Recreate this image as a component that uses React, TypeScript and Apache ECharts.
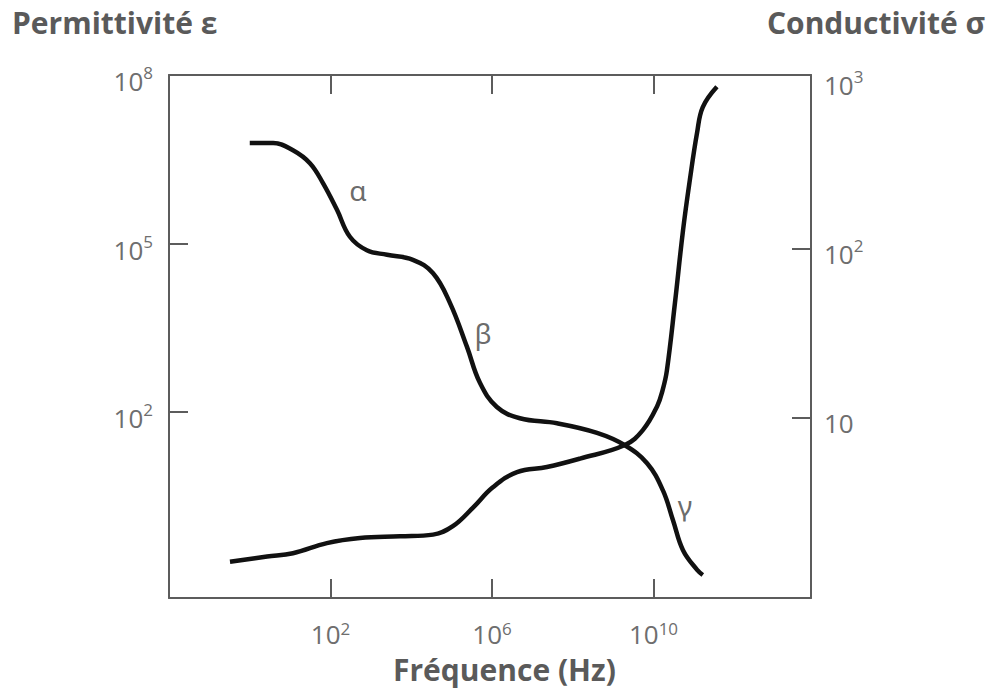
import React, { useEffect, useRef } from "react";
import * as echarts from "echarts";

// log10 of frequency (Hz) and log10 of permittivity
const permFreqLog = [0.0, 0.58, 1.07, 1.49, 1.81, 2.16, 2.48, 2.9, 3.4, 4.04, 4.54, 4.96, 5.38, 5.7, 6.12, 6.69, 7.61, 8.6, 9.29, 9.84, 10.23, 10.48, 10.73, 11.08, 11.22];
const permLog = [6.79, 6.79, 6.66, 6.43, 6.08, 5.6, 5.12, 4.88, 4.8, 4.71, 4.47, 3.94, 3.16, 2.52, 2.09, 1.89, 1.8, 1.63, 1.41, 1.09, 0.61, 0.08, -0.46, -0.81, -0.9];

// log10 of frequency (Hz) and log10 of conductivity
const condFreqLog = [-0.49, 0.43, 1.07, 1.91, 2.73, 3.72, 4.54, 5.03, 5.53, 6.02, 6.62, 7.36, 8.18, 9.29, 9.74, 10.09, 10.23, 10.33, 10.53, 10.73, 10.9, 11.08, 11.22, 11.57];
const condLog = [0.15, 0.18, 0.2, 0.26, 0.29, 0.3, 0.31, 0.36, 0.47, 0.59, 0.68, 0.71, 0.76, 0.84, 0.93, 1.07, 1.17, 1.28, 1.68, 2.11, 2.41, 2.69, 2.84, 2.96];

const xTickExponents = [2, 6, 10];
const permTickExponents = [2, 5, 8];
const condTickExponents = [1, 2, 3];
const condTickMarks = [1, 2];

const dispersionNames = ["α", "β", "γ"];
const dispersionFreqLog = [2.68, 5.78, 10.78];
const dispersionPermLog = [5.95, 3.41, 0.34];

const xRange = [-2, 13.9];
const permRange = [-1.31, 8];
const condRange = [-0.065, 3.03];

const labelColor = "#6e6e6e";
const axisColor = "#5c5c5c";
const font = "'Open Sans', 'Noto Sans', sans-serif";

const rich = {
  b: { fontSize: 26, fontFamily: font, color: labelColor, lineHeight: 34 },
  s: { fontSize: 17, fontFamily: font, color: labelColor, lineHeight: 18, verticalAlign: "top" },
};
const richX = {
  b: { fontSize: 26, fontFamily: font, color: labelColor, lineHeight: 27 },
  s: { fontSize: 17, fontFamily: font, color: labelColor, lineHeight: 14, verticalAlign: "top" },
};
const powLabel = (v: number) => (v === 1 ? "{b|10}" : `{b|10}{s|${v}}`);

export default function App() {
  const ref = useRef<HTMLDivElement>(null);
  useEffect(() => {
    if (!ref.current) return;
    const chart = echarts.init(ref.current, null, { renderer: "svg" });
    const axisLine = { show: true, onZero: false, lineStyle: { color: axisColor, width: 2 } };
    const option: any = {
      animation: false,
      backgroundColor: "#ffffff",
      grid: { left: 169, right: 186, top: 75, bottom: 95, containLabel: false },
      xAxis: [
        {
          type: "value",
          min: xRange[0],
          max: xRange[1],
          position: "bottom",
          axisLine,
          axisTick: { show: true, inside: true, length: 19, customValues: xTickExponents, lineStyle: { color: axisColor, width: 2 } },
          axisLabel: { show: true, customValues: xTickExponents, formatter: powLabel, rich: richX, margin: 22 },
          splitLine: { show: false },
        },
        {
          type: "value",
          min: xRange[0],
          max: xRange[1],
          position: "top",
          axisLine,
          axisTick: { show: true, inside: true, length: 19, customValues: xTickExponents, lineStyle: { color: axisColor, width: 2 } },
          axisLabel: { show: false },
          splitLine: { show: false },
        },
      ],
      yAxis: [
        {
          type: "value",
          min: permRange[0],
          max: permRange[1],
          position: "left",
          axisLine,
          axisTick: { show: true, inside: true, length: 19, customValues: permTickExponents, lineStyle: { color: axisColor, width: 2 } },
          axisLabel: { show: true, customValues: permTickExponents, formatter: powLabel, rich, margin: 16, padding: [12, 0, 0, 0] },
          splitLine: { show: false },
        },
        {
          type: "value",
          min: condRange[0],
          max: condRange[1],
          position: "right",
          axisLine,
          axisTick: { show: true, inside: true, length: 19, customValues: condTickMarks, lineStyle: { color: axisColor, width: 2 } },
          axisLabel: { show: true, customValues: condTickExponents, formatter: powLabel, rich, margin: 13, padding: [10, 0, 0, 0] },
          splitLine: { show: false },
        },
      ],
      series: [
        {
          type: "line",
          name: "Permittivité",
          xAxisIndex: 0,
          yAxisIndex: 0,
          data: permFreqLog.map((x, i) => [x, permLog[i]]),
          smooth: 0.4,
          symbol: "none",
          lineStyle: { color: "#111111", width: 4.5 },
          silent: true,
        },
        {
          type: "line",
          name: "Conductivité",
          xAxisIndex: 0,
          yAxisIndex: 1,
          data: condFreqLog.map((x, i) => [x, condLog[i]]),
          smooth: 0.4,
          symbol: "none",
          lineStyle: { color: "#111111", width: 4.5 },
          silent: true,
        },
        {
          type: "scatter",
          xAxisIndex: 0,
          yAxisIndex: 0,
          symbol: "circle",
          symbolSize: 1,
          itemStyle: { color: "rgba(0,0,0,0)" },
          silent: true,
          z: 5,
          data: dispersionNames.map((n, i) => ({ name: n, value: [dispersionFreqLog[i], dispersionPermLog[i]] })),
          label: {
            show: true,
            position: "inside",
            formatter: (p: any) => p.name,
            fontSize: 28,
            fontFamily: "'Noto Sans', 'DejaVu Sans', sans-serif",
            color: "#444444",
          },
        },
      ],
      graphic: [
        {
          type: "text",
          left: 12,
          top: 7,
          style: { text: "Permittivité ε", font: `bold 30px ${font}`, fill: "#5a5a5a" },
        },
        {
          type: "text",
          right: 12,
          top: 7,
          style: { text: "Conductivité σ", font: `bold 30px ${font}`, fill: "#5a5a5a" },
        },
        {
          type: "text",
          left: 393,
          top: 654,
          style: { text: "Fréquence (Hz)", font: `bold 30px ${font}`, fill: "#5a5a5a" },
        },
      ],
    };
    chart.setOption(option);
    return () => chart.dispose();
  }, []);
  return (
    <div
      ref={ref}
      style={{ position: "absolute", left: 0, top: 0, width: 997, height: 693, background: "#fff" }}
    />
  );
}
